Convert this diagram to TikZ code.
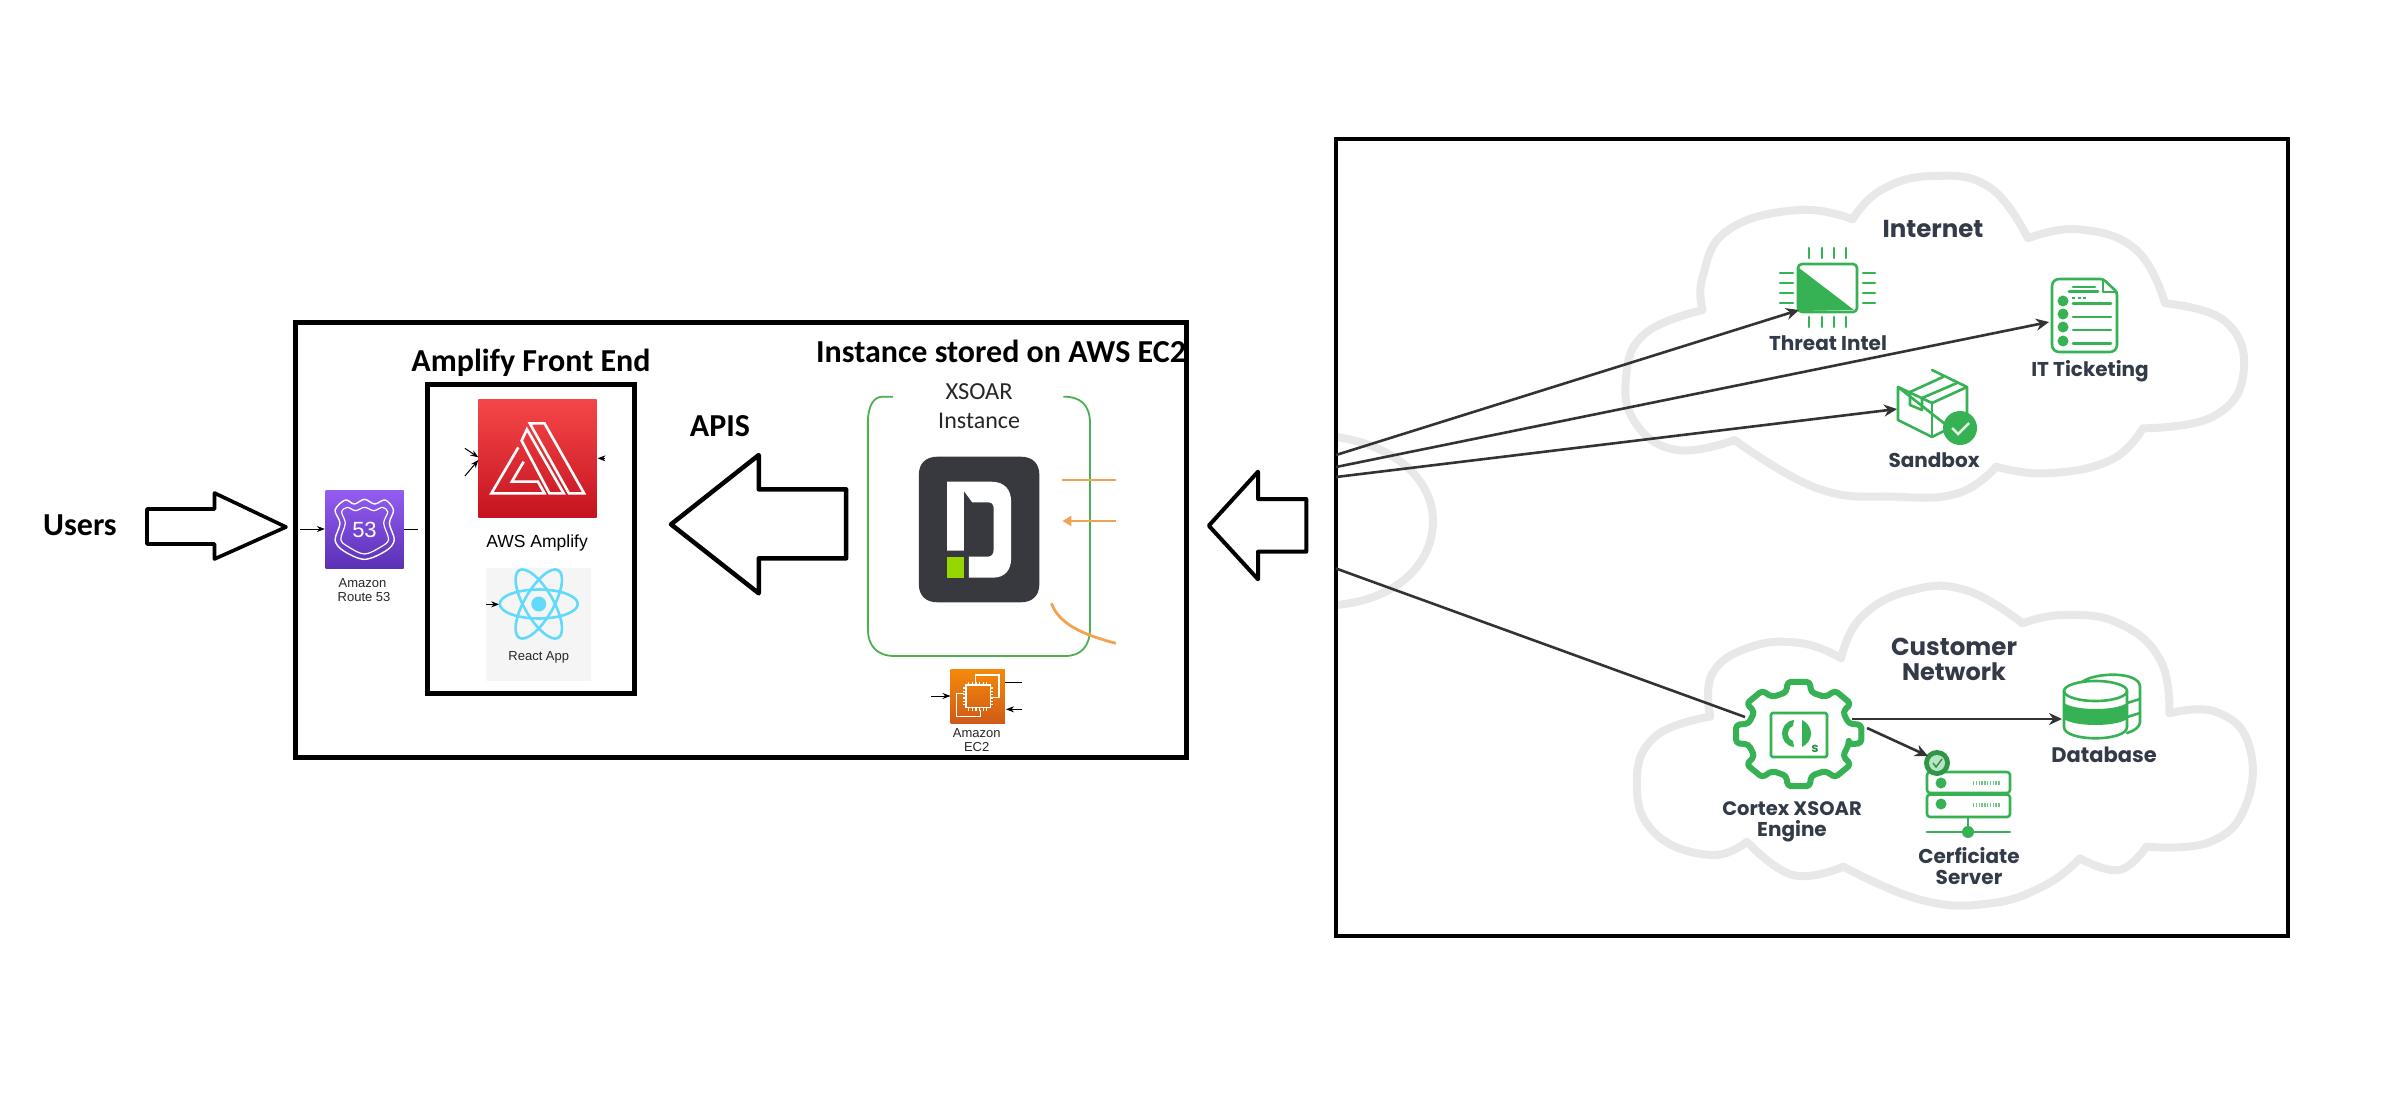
\documentclass[tikz,border=0pt]{standalone}
\usepackage{fontspec}
\setmainfont{Liberation Sans}
\newfontfamily\carl{Carlito}
\newfontfamily\popp{Poppins}
\usetikzlibrary{arrows.meta}
\definecolor{grn}{HTML}{36B254}
\definecolor{cloudg}{HTML}{E8E8E8}
\definecolor{ink}{HTML}{333A48}
\definecolor{orangel}{HTML}{F0A350}
\definecolor{xgreen}{HTML}{4CAF50}
\definecolor{reactc}{HTML}{61DAFB}
\definecolor{redtop}{HTML}{F54749}
\definecolor{redbot}{HTML}{C5131F}
\definecolor{purtop}{HTML}{945DF2}
\definecolor{purbot}{HTML}{5A30B5}
\definecolor{orgtop}{HTML}{F58A0A}
\definecolor{orgbot}{HTML}{CF5A18}
\definecolor{logodark}{HTML}{38393E}
\definecolor{logolime}{HTML}{97D700}
\tikzset{
 z1/.style={shift={(280,310)},xscale=0.40816,yscale=0.33333},
 z2/.style={shift={(800,310)},xscale=0.34439,yscale=0.33333},
 z3/.style={shift={(1320,130)},xscale=0.63776,yscale=0.33333},
 z4/.style={shift={(1600,570)},xscale=0.45918,yscale=0.33333},
 framebox/.style={draw=black,line width=5pt},
 bigarrow/.style={draw=black,line width=4.5pt,fill=white,line join=round},
 headline/.style={font=\carl\bfseries\fontsize{32}{36}\selectfont,inner sep=0pt},
 awslabel/.style={font=\fontsize{13}{14}\selectfont,inner sep=0pt,align=center,text=black!85},
 netlabel/.style={font=\popp\bfseries\fontsize{20}{22}\selectfont,text=ink,inner sep=0pt},
 netbig/.style={font=\popp\bfseries\fontsize{24.5}{26}\selectfont,text=ink,inner sep=0pt},
 tiny/.style={draw=black,line width=1pt,-{Stealth[length=8pt,width=6pt]}},
 wire/.style={draw=black!80,line width=2.6pt,-{Stealth[length=13pt,width=12pt]}},
 cloudline/.style={draw=cloudg,line width=8pt,line join=round,line cap=round},
 icon/.style={draw=grn,line width=2.6pt,line cap=round,line join=round},
 orangewire/.style={draw=orangel,line width=2.8pt},
}
\begin{document}
\begin{tikzpicture}[x=1pt,y=-1pt]
\useasboundingbox[fill=white] (0,0) rectangle (2403,1097);

% ---------- left frame
\node[headline] (users) at (80,525) {Users};
\draw[bigarrow,line width=3.6pt] (147,509) -- (214.5,509) -- (214.5,493) -- (286,527) -- (214.5,559) -- (214.5,544) -- (147,544) -- cycle;

% ---------- amplify box
\draw[framebox] (427,384) rectangle (634,693);
\node[headline] (amplifytitle) at (531,363) {Amplify Front End};
\node[headline] (instancetitle) at (1001,351) {Instance stored on AWS EC2};
\draw[framebox] (295,322) rectangle (1186,757);

\begin{scope}[z1]
 \shade[top color=redtop,bottom color=redbot] (486,268) rectangle (776,623);
 \begin{scope}[draw=white,line width=2.6pt,line join=miter]
  \draw (612,340) -- (648,340) -- (745,550) -- (708,550) -- cycle;
  \draw (605,358) -- (695,550) -- (660,550) -- (592,392) -- cycle;
  \draw (584,412) -- (518,550) -- (648,550) -- (632,515) -- (568,515) -- (597,455);
 \end{scope}
 \node[font=\fontsize{17.5}{20}\selectfont,inner sep=0pt] (awsamp) at (630,698) {AWS Amplify};
 % route 53
 \shade[top color=purtop,bottom color=purbot] (112,541) rectangle (303,775);
 \draw[white,line width=1.4pt,line join=round] plot[smooth cycle,tension=.55] coordinates {(160,570)(182,582)(207,568)(232,582)(258,570)(278,600)(268,640)(280,690)(260,722)(207,748)(155,722)(135,690)(147,640)(135,600)};
 \draw[white,line width=1.2pt,line join=round] plot[smooth cycle,tension=.55] coordinates {(165,592)(185,602)(207,592)(230,602)(251,592)(264,606)(254,640)(266,688)(248,710)(207,732)(167,710)(149,688)(160,640)(151,606)};
 \node[font=\fontsize{22}{24}\selectfont,text=white,inner sep=0pt] (fiftythree) at (207,660) {53};
 \node[awslabel] (r53a) at (202,820) {Amazon};
 \node[awslabel] (r53b) at (206,861) {Route 53};
 % react
 \fill[black!4] (505,774) rectangle (762,1112);
 \coordinate (atom) at (634,882);
 \node[awslabel] (reactlabel) at (634,1043) {React App};
 % small connector ends
 \coordinate (ra) at (50,657); \coordinate (rb) at (110,657);
 \coordinate (rc) at (303,657); \coordinate (rd) at (338,657);
 \coordinate (aa) at (453,415); \coordinate (ab) at (486,442);
 \coordinate (ac) at (453,498); \coordinate (ad) at (486,450);
 \coordinate (ae) at (796,445); \coordinate (af) at (778,445);
 \coordinate (ra2) at (505,883); \coordinate (rb2) at (537,883);
 \draw[bigarrow] (958,643) -- (1173,435) -- (1173,538) -- (1387,538) -- (1387,745) -- (1173,745) -- (1173,850) -- cycle;
 \node[headline] (apis) at (1078,347) {APIS};
\end{scope}
\draw[tiny] (ra) -- (rb);
\draw[draw=black,line width=1pt] (rc) -- (rd);
\draw[tiny] (aa) -- (ab);
\draw[tiny] (ac) -- (ad);
\draw[tiny] (ae) -- (af);
\draw[tiny] (ra2) -- (rb2);
\begin{scope}[shift={(atom)}]
 \fill[reactc] (0,0) circle (7.5);
 \foreach \r in {0,60,120}
  \draw[reactc,line width=2.6pt,rotate=\r] (0,0) ellipse (39 and 14.5);
\end{scope}

% ---------- xsoar instance
\begin{scope}[z2]
 \draw[xgreen,line width=1.8pt] (270,260) -- (240,260) .. controls (215,260) and (197,285) .. (197,340) -- (197,955) .. controls (197,1010) and (225,1038) .. (275,1038) -- (770,1038) .. controls (815,1038) and (842,1010) .. (842,955) -- (842,340) .. controls (842,285) and (815,260) .. (765,260);
 \node[font=\carl\fontsize{24.5}{26}\selectfont,text=black!85,inner sep=0pt] (xs1) at (520,244) {XSOAR};
 \node[font=\carl\fontsize{24}{26}\selectfont,text=black!85,inner sep=0pt] (xs2) at (520,334) {Instance};
 \fill[logodark] (400,440) -- (640,440) .. controls (675,440) and (695,460) .. (695,495) -- (695,822) .. controls (695,857) and (675,877) .. (640,877) -- (400,877) .. controls (365,877) and (345,857) .. (345,822) -- (345,495) .. controls (345,460) and (365,440) .. (400,440) -- cycle;
 \fill[white] (427,515) -- (555,515) .. controls (595,515) and (613,540) .. (613,575) -- (613,745) .. controls (613,780) and (595,803) .. (560,803) -- (490,803) -- (490,740) -- (545,740) .. controls (558,740) and (562,730) .. (562,720) -- (562,592) .. controls (562,582) and (555,577) .. (545,577) -- (500,577) -- (476,543) -- (476,722) -- (427,722) -- cycle;
 \fill[logolime] (427,740) rectangle (477,803);
 \coordinate (o1a) at (760,510); \coordinate (o1b) at (917,510);
 \coordinate (o2a) at (917,633); \coordinate (o2b) at (762,633);
 \coordinate (o3a) at (730,880); \coordinate (o3b) at (917,1000);
 % EC2
 \shade[top color=orgtop,bottom color=orgbot] (437,1077) rectangle (595,1240);
 \begin{scope}[draw=white,line width=1.2pt]
  \draw (510,1115) -- (510,1095) -- (578,1095) -- (578,1162) -- (558,1162);
  \draw (475,1150) -- (455,1150) -- (455,1220) -- (523,1220) -- (523,1200);
  \draw (482,1125) rectangle (552,1192);
  \foreach \p in {0,1,2,3,4,5} {
   \draw (490+\p*10.5,1125) -- (490+\p*10.5,1115);
   \draw (490+\p*10.5,1192) -- (490+\p*10.5,1202);
   \draw (482,1134+\p*10) -- (473,1134+\p*10);
   \draw (552,1134+\p*10) -- (561,1134+\p*10);
  }
 \end{scope}
 \coordinate (e1a) at (595,1117); \coordinate (e1b) at (645,1117);
 \coordinate (e2a) at (380,1158); \coordinate (e2b) at (437,1158);
 \coordinate (e3a) at (645,1198); \coordinate (e3b) at (598,1198);
 \node[awslabel] (ec2a) at (513,1269) {Amazon};
 \node[awslabel] (ec2b) at (513,1310) {EC2};
 \draw[bigarrow,line width=4pt] (1187,647) -- (1330,485) -- (1330,567) -- (1470,567) -- (1470,725) -- (1330,725) -- (1330,808) -- cycle;
\end{scope}
\draw[orangewire] (o1a) -- (o1b);
\draw[orangewire,-{Triangle[length=9pt,width=10pt]}] (o2a) -- (o2b);
\draw[orangewire] (o3a) .. controls +(8,22) and +(-30,-8) .. (o3b);
\draw[draw=black,line width=1pt] (e1a) -- (e1b);
\draw[tiny] (e2a) -- (e2b);
\draw[tiny] (e3a) -- (e3b);

% ---------- right frame
\begin{scope}
 \clip (1338,141) rectangle (2286,934);
 \draw[cloudline] (1336,437) .. controls (1395,445) and (1433,480) .. (1433,521) .. controls (1433,565) and (1395,600) .. (1336,605);
\end{scope}
\draw[draw=black,line width=4pt] (1336,139) rectangle (2288,936);

% ---------- clouds
\begin{scope}[z3]
 \draw[cloudline] plot[smooth,tension=.75] coordinates {(600,540)(600,440)(640,300)(750,240)(835,268)}
  plot[smooth,tension=.75] coordinates {(835,268)(880,180)(960,138)(1050,172)(1110,325)}
  plot[smooth,tension=.75] coordinates {(1110,325)(1190,298)(1280,360)(1325,520)}
  plot[smooth,tension=.75] coordinates {(1325,520)(1420,575)(1448,730)(1400,860)(1290,895)}
  plot[smooth,tension=.75] coordinates {(1290,895)(1240,990)(1140,1030)(1060,1010)}
  plot[smooth,tension=.75] coordinates {(1060,1010)(1000,1090)(900,1100)(780,1075)(650,930)}
  plot[smooth,tension=.75] coordinates {(650,930)(560,960)(495,880)(480,740)(510,610)(600,540)};
\end{scope}
\begin{scope}[z4]
 \draw[cloudline] plot[smooth,tension=.75] coordinates {(240,440)(245,310)(330,230)(440,220)(525,265)}
  plot[smooth,tension=.75] coordinates {(525,265)(570,140)(680,60)(800,62)(920,160)}
  plot[smooth,tension=.75] coordinates {(920,160)(1010,135)(1130,160)(1220,270)(1240,430)}
  plot[smooth,tension=.75] coordinates {(1240,430)(1340,425)(1412,520)(1408,700)(1330,815)(1190,830)}
  plot[smooth,tension=.75] coordinates {(1190,830)(1130,900)(1045,865)}
  plot[smooth,tension=.75] coordinates {(1045,865)(970,945)(850,1000)(700,990)(530,890)}
  plot[smooth,tension=.75] coordinates {(530,890)(420,915)(320,815)}
  plot[smooth,tension=.75] coordinates {(320,815)(240,855)(120,790)(80,640)(120,500)(240,440)};
\end{scope}

% ---------- internet labels
\node[netbig] (internet) at (1933,229) {Internet};
\node[netlabel] (threatl) at (1828,343) {Threat Intel};
\node[netlabel] (itl) at (2090,371) {IT Ticketing};
\node[netlabel] (sandl) at (1934,460) {Sandbox};
% chip
\draw[icon,rounded corners=4pt] (1798,264) rectangle (1857,312);
\fill[grn] (1799,268) -- (1854,310) -- (1799,311) -- cycle;
\foreach \p in {1809,1822,1834,1846} {\draw[icon] (\p,248) -- (\p,258); \draw[icon] (\p,317) -- (\p,327);}
\foreach \p in {273,283,293,303} {\draw[icon] (1780,\p) -- (1793,\p); \draw[icon] (1863,\p) -- (1875,\p);}
% ticket
\draw[icon,rounded corners=3pt] (2103,279) -- (2056,279) -- (2052,283) -- (2052,348) -- (2056,352) -- (2113,352) -- (2117,348) -- (2117,292) -- cycle;
\draw[icon,line width=1.4pt] (2103,279) -- (2103,292) -- (2117,292);
\draw[icon] (2073,287) -- (2095,287);
\draw[icon] (2069,291.5) -- (2098,291.5);
\foreach \p/\q in {301/303.5,314/317,327/330,341/343.5} {
 \fill[grn] (2063,\p) circle (5.5);
 \draw[icon] (2073,\q) -- (2111,\q);
}
\draw[grn,line width=2.5pt,dash pattern=on 3pt off 2.5pt] (2072,298) -- (2087,298);
% sandbox
\draw[icon] (1932,370) -- (1967,387) -- (1967,413) (1950,428) -- (1932,437) -- (1898,420) -- (1898,387) -- cycle;
\draw[icon] (1898,387) -- (1932,403) -- (1967,387);
\draw[icon] (1932,403) -- (1932,437);
\draw[icon] (1910,392) -- (1943,377);
\draw[icon] (1922,398) -- (1957,383);
\draw[icon] (1910,392) -- (1910,405) -- (1922,410) -- (1922,398);
\fill[grn] (1960,428) circle (17);
\draw[white!85!grn,line width=2.5pt] (1952,428) -- (1958,434) -- (1969,423);
\coordinate (h1) at (1336,455); \coordinate (t1) at (1799,310);
\coordinate (h2) at (1336,467); \coordinate (t2) at (2049,322);
\coordinate (h3) at (1336,477); \coordinate (t3) at (1897,409);

% ---------- customer labels
\node[netbig] (cust) at (1954,647) {Customer};
\node[netbig,font=\popp\bfseries\fontsize{24}{26}\selectfont] (netw) at (1954,672) {Network};
\node[netlabel,font=\popp\bfseries\fontsize{19.5}{22}\selectfont] (cort) at (1792,809) {Cortex XSOAR};
\node[netlabel] (engl) at (1792,831) {Engine};
\node[netlabel,font=\popp\bfseries\fontsize{21}{22}\selectfont] (dbl) at (2104,755) {Database};
\node[netlabel] (cer1) at (1969,856) {Cerficiate};
\node[netlabel] (cer2) at (1969,877) {Server};
% gear
\coordinate (gearc) at (1798.7,734);
\begin{scope}[shift={(gearc)},xscale=1.2]
 \draw[draw=grn,line width=6pt,line join=round,rounded corners=3.5pt]
  (-14:43pt) \foreach \a in {0,45,...,315} { -- (\a-14:43pt) -- (\a-10:53pt) -- (\a+10:53pt) -- (\a+14:43pt) } -- cycle;
\end{scope}
% inner square of the engine
\draw[icon,rounded corners=1.5pt] (1771,713) rectangle (1827,757);
\fill[grn] (1794,720) .. controls (1778,722) and (1778,745) .. (1794,747) -- (1793,741) .. controls (1786,738) and (1786,729) .. (1793,726) -- cycle;
\fill[grn] (1802,720) .. controls (1814,726) and (1814,741) .. (1802,747) -- cycle;
\node[font=\popp\bfseries\fontsize{13}{14}\selectfont,text=grn!80!black,inner sep=0pt] (smalls) at (1815,749) {s};
% database
\draw[icon] (2082,682) .. controls (2095,672) and (2140,671) .. (2140,687) -- (2140,722) .. controls (2140,727) and (2134,731) .. (2127,733);
\draw[icon] (2127,703) -- (2140,699); \draw[icon] (2127,717) -- (2140,713);
\fill[grn] (2064,703) .. controls (2075,711) and (2116,711) .. (2127,703) -- (2127,719) .. controls (2116,727) and (2075,727) .. (2064,719) -- cycle;
\draw[icon] (2095.5,691) ellipse (31.5 and 10);
\draw[icon] (2064,691) -- (2064,727) .. controls (2064,742) and (2127,742) .. (2127,727) -- (2127,691);
% certificate server
\draw[icon,rounded corners=3pt] (1927,772) rectangle (2010,793);
\draw[icon,rounded corners=3pt] (1927,794.5) rectangle (2010,817);
\fill[grn] (1941,783) circle (5.5);
\fill[grn] (1941,804) circle (5.5);
\draw[grn!70,line width=4pt,dash pattern=on 1.4pt off 1.4pt] (1973,783) -- (2000,783);
\draw[grn!70,line width=4pt,dash pattern=on 1.4pt off 1.4pt] (1973,805) -- (2000,805);
\draw[icon] (1968,817) -- (1968,832);
\draw[icon] (1927,832) -- (2010,832);
\fill[grn] (1968,832) circle (6);
\fill[grn!85!black] (1937,763) circle (13);
\fill[white!65!grn] (1937,763) circle (8);
\draw[grn!80!black,line width=1.4pt] (1933,763) -- (1936,767) -- (1942,759);
% connector ends
\coordinate (h4) at (1336,568.5); \coordinate (t4) at (1745,717);
\coordinate (g1) at (1852,719); \coordinate (d1) at (2062,719);
\coordinate (g2) at (1867,728); \coordinate (c1) at (1928,756);

% connectors of the right frame
\draw[wire] (h1) -- (t1);
\draw[wire] (h2) -- (t2);
\draw[wire] (h3) -- (t3);
\draw[draw=black!80,line width=2.6pt] (h4) -- (t4);
\draw[wire] (g1) -- (d1);
\draw[wire] (g2) -- (c1);
\end{tikzpicture}
\end{document}
